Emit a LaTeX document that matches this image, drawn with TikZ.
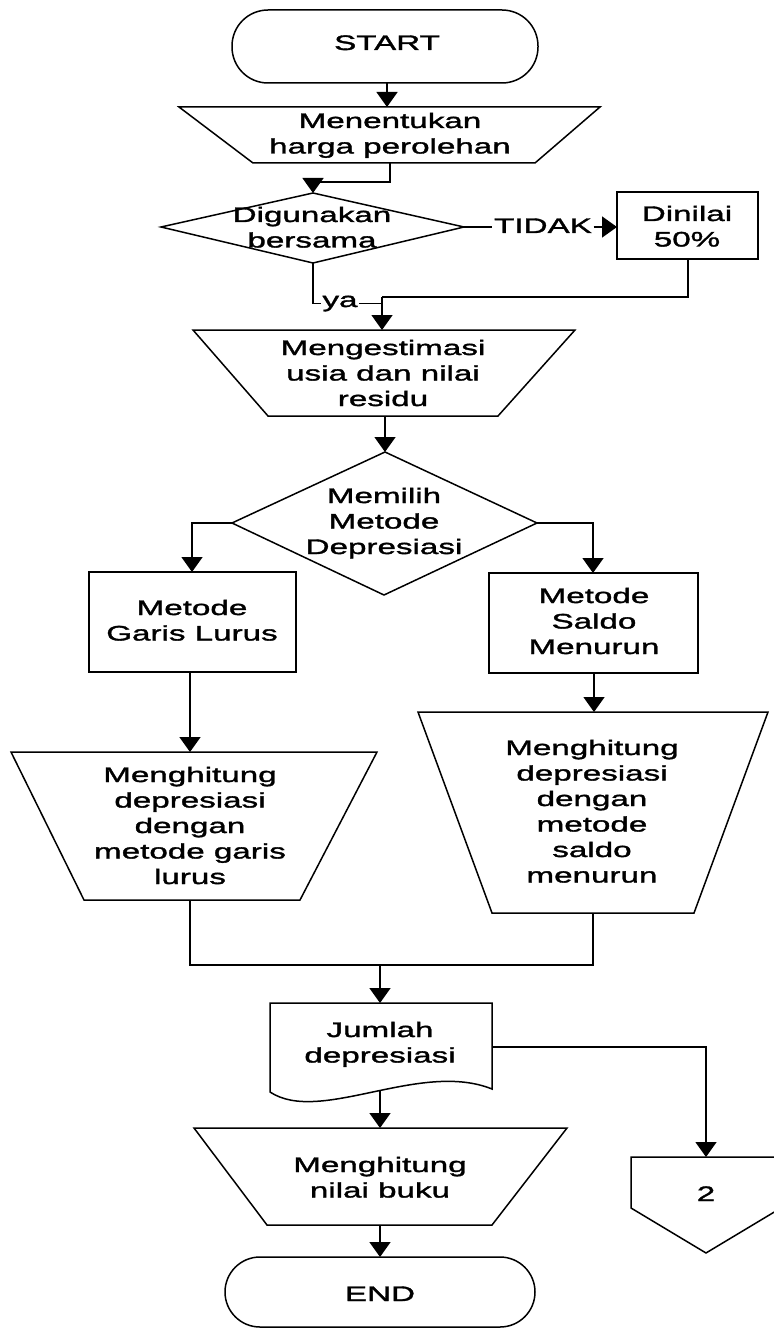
\documentclass[tikz,border=0pt]{standalone}
\usepackage{fontspec}
\setmainfont[FakeStretch=1.58,FakeBold=1.6]{Liberation Sans}
\usetikzlibrary{arrows.meta}
\newcommand\ml[1]{\begin{tabular}[t]{@{}c@{}}#1\end{tabular}}
\begin{document}
\begin{tikzpicture}[x=1pt,y=-1pt,
  shp/.style={draw=black,line width=1.5pt,line join=miter},
  conn/.style={draw=black,line width=1.5pt},
  arr/.style={conn,-{Triangle[width=21pt,length=15pt]}},
  txt/.style={anchor=base,inner sep=0pt,font=\fontsize{21}{25.5}\selectfont},
  lbl/.style={anchor=base,inner sep=1.5pt,font=\fontsize{21}{25.5}\selectfont}]
\useasboundingbox (0,0) rectangle (773,1329);
\fill[white] (0,0) rectangle (773,1329);

% ---- shapes ----
% START
\draw[shp,rounded corners=36pt] (232,10) rectangle (538,83);
\coordinate (start-b) at (387,83);
\node[txt] (start) at (387,50) {START};
% trapezoid 1
\draw[shp] (179,107) -- (600,107) -- (535,163) -- (253,163) -- cycle;
\coordinate (t1-t) at (387,107);
\coordinate (t1-b) at (390,163);
\node[txt] (t1) at (390,128) {\ml{Menentukan\\harga perolehan}};
% diamond 1
\draw[shp] (313,193) -- (464,227) -- (313,263) -- (161,227) -- cycle;
\coordinate (d1-t) at (313,193);
\coordinate (d1-r) at (464,227);
\coordinate (d1-b) at (313,263);
\node[txt] (d1) at (312,222) {\ml{Digunakan\\bersama}};
% Dinilai box
\draw[shp] (617,192) rectangle (758,259);
\coordinate (dn-l) at (617,227);
\coordinate (dn-b) at (688,259);
\node[txt] (dn) at (687,221) {\ml{Dinilai\\50\%}};
% trapezoid 2
\draw[shp] (193,330) -- (575,330) -- (498,416) -- (268,416) -- cycle;
\coordinate (t2-t) at (382,330);
\coordinate (t2-b) at (385,416);
\node[txt] (t2) at (383,355) {\ml{Mengestimasi\\usia dan nilai\\residu}};
% diamond 2
\draw[shp] (385,452) -- (537,523) -- (384,595) -- (232,523) -- cycle;
\coordinate (d2-t) at (385,452);
\coordinate (d2-l) at (232,523);
\coordinate (d2-r) at (537,523);
\node[txt] (d2) at (384,503) {\ml{Memilih\\Metode\\Depresiasi}};
% left box
\draw[shp] (89,572) rectangle (296,672);
\coordinate (bl-t) at (192,572);
\coordinate (bl-b) at (190,672);
\node[txt] (bl) at (192,615) {\ml{Metode\\Garis Lurus}};
% right box
\draw[shp] (489,573) rectangle (698,673);
\coordinate (br-t) at (593,573);
\coordinate (br-b) at (594,673);
\node[txt] (br) at (594,603) {\ml{Metode\\Saldo\\Menurun}};
% left trapezoid
\draw[shp] (11,752) -- (377,752) -- (300,900) -- (84,900) -- cycle;
\coordinate (tl-t) at (190,752);
\coordinate (tl-b) at (190,900);
\node[txt] (tl) at (190,782) {\ml{Menghitung\\depresiasi\\dengan\\metode garis\\lurus}};
% right trapezoid
\draw[shp] (418,712) -- (768,712) -- (694,913) -- (492,913) -- cycle;
\coordinate (tr-t) at (594,712);
\coordinate (tr-b) at (593,913);
\node[txt] (tr) at (592,755) {\ml{Menghitung\\depresiasi\\dengan\\metode\\saldo\\menurun}};
% document Jumlah
\draw[shp] (270,1092) -- (270,1003) -- (492,1003) -- (492,1089)
  .. controls (420,1060) and (320,1125) .. (270,1092) -- cycle;
\coordinate (jd-t) at (380,1003);
\coordinate (jd-b) at (380,1090);
\coordinate (jd-r) at (492,1047);
\node[txt] (jd) at (380,1037) {\ml{Jumlah\\depresiasi}};
% trapezoid bottom
\draw[shp] (194,1128) -- (567,1128) -- (492,1225) -- (267,1225) -- cycle;
\coordinate (tb-t) at (380,1128);
\coordinate (tb-b) at (380,1225);
\node[txt] (tb) at (380,1172) {\ml{Menghitung\\nilai buku}};
% END
\draw[shp,rounded corners=35pt] (225,1257) rectangle (535,1327);
\coordinate (end-t) at (380,1257);
\node[txt] (end) at (380,1301) {END};
% off-page connector
\draw[shp] (631,1157) -- (781,1157) -- (781,1208) -- (706,1253) -- (631,1208) -- cycle;
\coordinate (op-t) at (706,1157);
\node[txt] (op) at (706,1201) {2};

% ---- connectors ----
\draw[arr] (start-b) -- (t1-t);
\draw[arr] (t1-b) -- (390,182) -| (d1-t);
\node[lbl] (tidak) at (543,233) {TIDAK};
\draw[conn] (d1-r) -- (d1-r -| tidak.west);
\draw[arr] (dn-l -| tidak.east) -- (dn-l);
\coordinate (join1) at (382,297);
\draw[conn] (dn-b) |- (join1);
\node[lbl] (ya) at (340,307) {ya};
\draw[conn] (d1-b) |- (ya.west);
\draw[conn] (ya.east) -- (ya.east -| join1);
\draw[arr] (join1) -- (join1 |- t2-t);
\draw[arr] (t2-b) -- (d2-t);
\draw[arr] (d2-l) -| (bl-t);
\draw[arr] (d2-r) -| (br-t);
\draw[arr] (bl-b) -- (tl-t);
\draw[arr] (br-b) -- (tr-t);
\coordinate (join2) at (380,965);
\draw[conn] (tl-b) |- (join2) -| (tr-b);
\draw[arr] (join2) -- (jd-t);
\draw[arr] (jd-b) -- (tb-t);
\draw[arr] (tb-b) -- (end-t);
\draw[arr] (jd-r) -| (op-t);
\end{tikzpicture}
\end{document}
